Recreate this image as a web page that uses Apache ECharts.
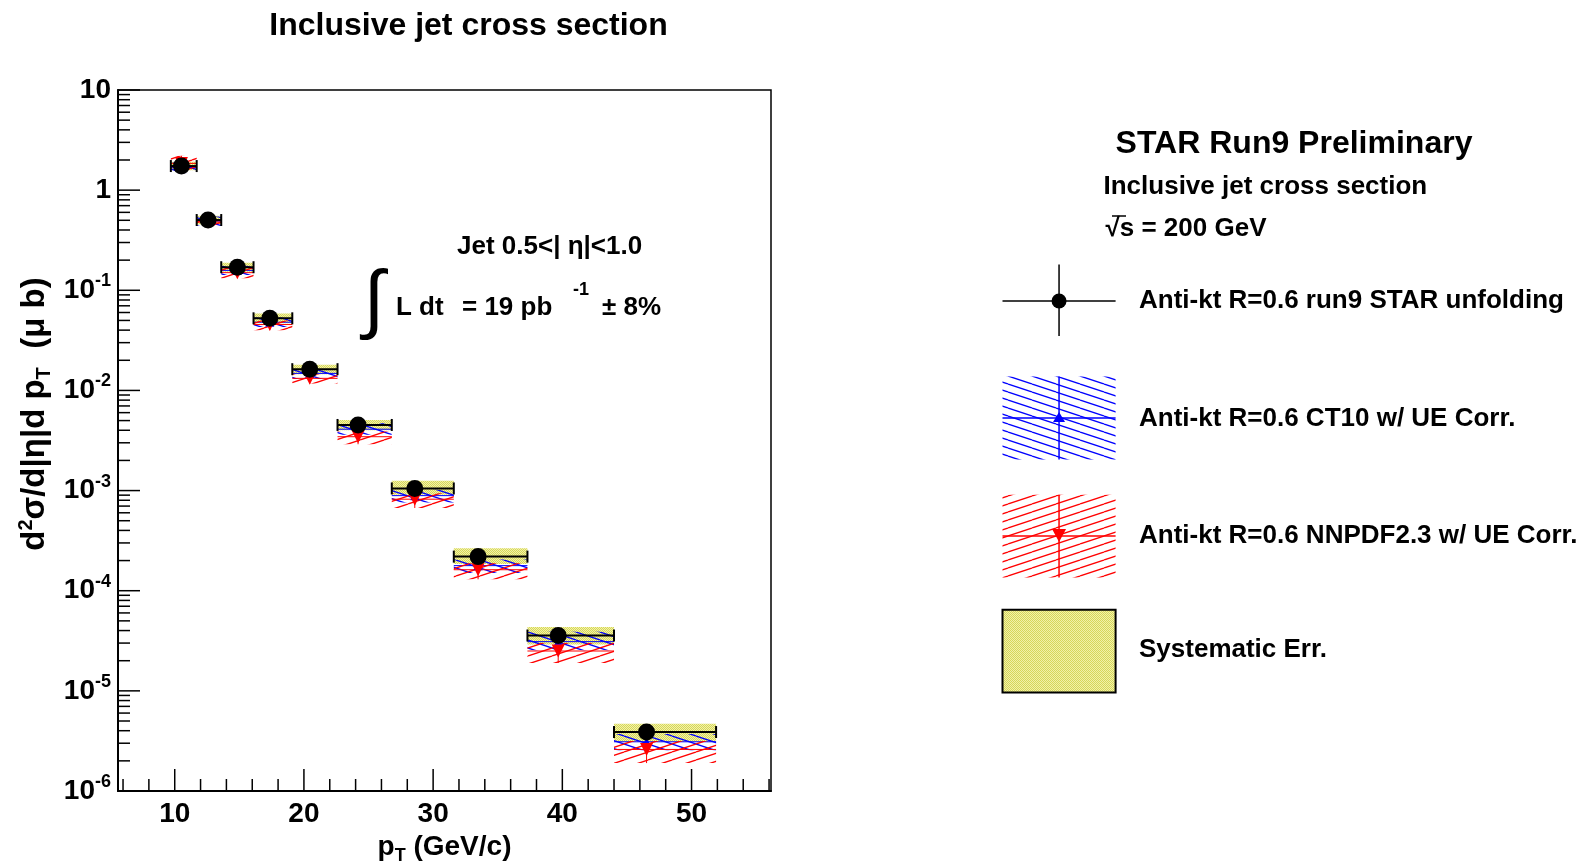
<!DOCTYPE html>
<html>
<head>
<meta charset="utf-8">
<script src="https://cdn.jsdelivr.net/npm/echarts@6/dist/echarts.min.js"></script>
<style>
html,body{margin:0;padding:0;background:#fff;}
#chart{width:1583px;height:867px;}
</style>
</head>
<body>
<div id="chart"></div>
<script>
// ---------------- data ----------------
const ptMean  = [10.52, 12.58, 14.85, 17.36, 20.45, 24.19, 28.58, 33.48, 39.68, 46.52];
const binLow  = [9.7, 11.7, 13.6, 16.1, 19.1, 22.6, 26.8, 31.6, 37.3, 44.0];
const binHigh = [11.7, 13.6, 16.1, 19.1, 22.6, 26.8, 31.6, 37.3, 44.0, 51.9];
const xsec    = [1.74, 0.503, 0.170, 0.0525, 0.0163, 0.00452, 1.05e-3, 2.19e-4, 3.57e-5, 3.88e-6];
const statLow = [1.70, 0.492, 0.166, 0.0512, 0.0158, 0.00436, 1.00e-3, 2.06e-4, 3.30e-5, 3.45e-6];
const statHigh= [1.78, 0.514, 0.174, 0.0538, 0.0168, 0.00468, 1.10e-3, 2.32e-4, 3.84e-5, 4.31e-6];
const sysLow  = [1.58, 0.455, 0.153, 0.0468, 0.0145, 0.00400, 9.1e-4, 1.85e-4, 2.9e-5, 3.1e-6];
const sysHigh = [1.92, 0.555, 0.188, 0.0585, 0.0180, 0.00508, 1.25e-3, 2.65e-4, 4.35e-5, 4.7e-6];
const ct10     = [1.68, 0.49, 0.158, 0.048, 0.0148, 0.0041, 8.9e-4, 1.78e-4, 3.1e-5, 3.1e-6];
const ct10Low  = [1.48, 0.44, 0.142, 0.043, 0.0130, 0.0036, 7.6e-4, 1.50e-4, 2.55e-5, 2.55e-6];
const ct10High = [1.90, 0.545, 0.176, 0.0535, 0.0165, 0.0047, 1.02e-3, 2.05e-4, 3.9e-5, 3.7e-6];
const nnpdf     = [1.85, 0.48, 0.150, 0.0455, 0.0132, 0.00345, 8.2e-4, 1.62e-4, 2.5e-5, 2.6e-6];
const nnpdfLow  = [1.60, 0.43, 0.132, 0.040, 0.0117, 0.0029, 6.7e-4, 1.30e-4, 1.9e-5, 1.9e-6];
const nnpdfHigh = [2.20, 0.53, 0.168, 0.050, 0.0145, 0.0039, 9.4e-4, 1.88e-4, 3.0e-5, 3.15e-6];

const xMajorTicks = [10, 20, 30, 40, 50];
const xMinorTicks = [6, 8, 12, 14, 16, 18, 22, 24, 26, 28, 32, 34, 36, 38, 42, 44, 46, 48, 52, 54, 56];
const yDecadeExponents = [-6, -5, -4, -3, -2, -1, 0, 1];
const yMantissas = [2, 3, 4, 5, 6, 7, 8, 9];

const X_MIN = 5.61, X_MAX = 56.15, Y_MIN = 1e-6, Y_MAX = 10;

const legendLabels = [
  'Anti-kt R=0.6 run9 STAR unfolding',
  'Anti-kt R=0.6 CT10 w/ UE Corr.',
  'Anti-kt R=0.6 NNPDF2.3 w/ UE Corr.',
  'Systematic Err.'
];

// ---------------- patterns ----------------
function hatch(color, down) {
  const c = document.createElement('canvas');
  c.width = 24; c.height = 8;
  const g = c.getContext('2d');
  g.strokeStyle = color; g.lineWidth = 1.3;
  for (let k = -1; k <= 1; k++) {
    g.beginPath();
    if (down) { g.moveTo(0, k * 8); g.lineTo(24, k * 8 + 8); }
    else { g.moveTo(0, k * 8 + 8); g.lineTo(24, k * 8); }
    g.stroke();
  }
  return c;
}
function dots() {
  const c = document.createElement('canvas');
  c.width = 2; c.height = 2;
  const g = c.getContext('2d');
  g.fillStyle = '#d6d65a'; g.fillRect(0, 0, 2, 2);
  g.fillStyle = '#f2f2a8'; g.fillRect(1, 0, 1, 1); g.fillRect(0, 1, 1, 1);
  return c;
}
const blueHatch = { image: hatch('#0000ff', true), repeat: 'repeat' };
const redHatch = { image: hatch('#ff0000', false), repeat: 'repeat' };
const yellowFill = { image: dots(), repeat: 'repeat' };

// ---------------- build series data ----------------
const n = ptMean.length;
const sysData = [], ct10Data = [], nnData = [], dataBars = [];
for (let i = 0; i < n; i++) {
  sysData.push([binLow[i], binHigh[i], sysLow[i], sysHigh[i]]);
  ct10Data.push([binLow[i], binHigh[i], ct10Low[i], ct10High[i], ptMean[i], ct10[i]]);
  nnData.push([binLow[i], binHigh[i], nnpdfLow[i], nnpdfHigh[i], ptMean[i], nnpdf[i]]);
  dataBars.push([binLow[i], binHigh[i], statLow[i], statHigh[i], ptMean[i], xsec[i]]);
}
const xTickData = xMajorTicks.map(v => [v, Y_MIN, 22]).concat(xMinorTicks.map(v => [v, Y_MIN, 12]));
const yTickData = [];
yDecadeExponents.forEach(e => {
  yTickData.push([X_MIN, Math.pow(10, e), 22]);
  if (e < 1) yMantissas.forEach(m => yTickData.push([X_MIN, m * Math.pow(10, e), 12]));
});

function boxRender(fill) {
  return function (params, api) {
    const p0 = api.coord([api.value(0), api.value(3)]);
    const p1 = api.coord([api.value(1), api.value(2)]);
    return { type: 'rect', shape: { x: p0[0], y: p0[1], width: p1[0] - p0[0], height: p1[1] - p0[1] }, style: { fill: fill } };
  };
}
function theoryRender(fill, color) {
  return function (params, api) {
    const p0 = api.coord([api.value(0), api.value(3)]);
    const p1 = api.coord([api.value(1), api.value(2)]);
    const c = api.coord([api.value(4), api.value(5)]);
    return {
      type: 'group', children: [
        { type: 'rect', shape: { x: p0[0], y: p0[1], width: p1[0] - p0[0], height: p1[1] - p0[1] }, style: { fill: fill } },
        { type: 'line', shape: { x1: p0[0], y1: c[1], x2: p1[0], y2: c[1] }, style: { stroke: color, lineWidth: 1 } },
        { type: 'line', shape: { x1: c[0], y1: p0[1], x2: c[0], y2: p1[1] }, style: { stroke: color, lineWidth: 1 } }
      ]
    };
  };
}
function dataBarRender(params, api) {
  const l = api.coord([api.value(0), api.value(5)]);
  const r = api.coord([api.value(1), api.value(5)]);
  const lo = api.coord([api.value(4), api.value(2)]);
  const hi = api.coord([api.value(4), api.value(3)]);
  const st = { stroke: '#000', lineWidth: 2 };
  return {
    type: 'group', children: [
      { type: 'line', shape: { x1: l[0], y1: l[1], x2: r[0], y2: r[1] }, style: st },
      { type: 'line', shape: { x1: l[0], y1: l[1] - 6, x2: l[0], y2: l[1] + 6 }, style: st },
      { type: 'line', shape: { x1: r[0], y1: r[1] - 6, x2: r[0], y2: r[1] + 6 }, style: st },
      { type: 'line', shape: { x1: lo[0], y1: lo[1], x2: hi[0], y2: hi[1] }, style: st }
    ]
  };
}
function tickRender(vertical) {
  return function (params, api) {
    const p = api.coord([api.value(0), api.value(1)]);
    const len = api.value(2);
    const shape = vertical ? { x1: p[0], y1: p[1], x2: p[0], y2: p[1] - len } : { x1: p[0], y1: p[1], x2: p[0] + len, y2: p[1] };
    return { type: 'line', shape: shape, style: { stroke: '#000', lineWidth: 1.5 } };
  };
}

// ---------------- text / legend graphics ----------------
const FF = '"Liberation Sans", Arial, Helvetica, sans-serif';
function txt(x, y, text, size, extra) {
  return { type: 'text', x: x, y: y, z: 100, style: Object.assign({ text: text, fontSize: size, fontWeight: 'bold', fontFamily: FF, fill: '#000', align: 'left', verticalAlign: 'middle' }, extra || {}) };
}
const LX0 = 1002.5, LX1 = 1115.6, LXC = (LX0 + LX1) / 2;
const graphics = [
  txt(468.5, 26, 'Inclusive jet cross section', 32, { align: 'center' }),
  txt(457, 247, 'Jet 0.5<| η|<1.0', 26),
  txt(374, 303, '∫', 76, { fontWeight: 'normal', align: 'center' }),
  txt(396, 308, 'L dt', 26),
  txt(462, 308, '= 19 pb', 26),
  txt(573, 290, '-1', 18),
  txt(602, 308, '± 8%', 26),
  { type: 'text', x: 35, y: 414, rotation: Math.PI / 2, z: 100, style: {
      text: 'd{sup|2}σ/d|η|d p{sub|T}  (μ b)', fontSize: 33, fontWeight: 'bold', fontFamily: FF, fill: '#000', align: 'center', verticalAlign: 'middle',
      rich: { sup: { fontSize: 20, fontWeight: 'bold', fontFamily: FF, padding: [0, 0, 17, 0] }, sub: { fontSize: 20, fontWeight: 'bold', fontFamily: FF, padding: [19, 0, 0, 0] } } } },
  txt(1115.6, 144, 'STAR Run9 Preliminary', 32),
  txt(1103.5, 187, 'Inclusive jet cross section', 26),
  txt(1105.5, 229, '√s = 200 GeV', 26),
  { type: 'line', z: 100, shape: { x1: 1112, y1: 216, x2: 1126, y2: 216 }, style: { stroke: '#000', lineWidth: 1.5 } },
  // legend entry 1
  { type: 'line', z: 100, shape: { x1: LX0, y1: 301, x2: LX1, y2: 301 }, style: { stroke: '#000', lineWidth: 1.5 } },
  { type: 'line', z: 100, shape: { x1: LXC, y1: 264.5, x2: LXC, y2: 336 }, style: { stroke: '#000', lineWidth: 1.5 } },
  { type: 'circle', z: 101, shape: { cx: LXC, cy: 301, r: 7.5 }, style: { fill: '#000' } },
  txt(1139, 301, legendLabels[0], 26),
  // legend entry 2
  { type: 'rect', z: 100, shape: { x: LX0, y: 376.6, width: LX1 - LX0, height: 82.8 }, style: { fill: blueHatch } },
  { type: 'line', z: 100, shape: { x1: LX0, y1: 418, x2: LX1, y2: 418 }, style: { stroke: '#0000ff', lineWidth: 1.5 } },
  { type: 'line', z: 100, shape: { x1: LXC, y1: 376.6, x2: LXC, y2: 459.4 }, style: { stroke: '#0000ff', lineWidth: 1.5 } },
  { type: 'polygon', z: 101, shape: { points: [[LXC, 412], [LXC - 6, 422], [LXC + 6, 422]] }, style: { fill: '#0000ff' } },
  txt(1139, 419, legendLabels[1], 26),
  // legend entry 3
  { type: 'rect', z: 100, shape: { x: LX0, y: 494.7, width: LX1 - LX0, height: 82.8 }, style: { fill: redHatch } },
  { type: 'line', z: 100, shape: { x1: LX0, y1: 536, x2: LX1, y2: 536 }, style: { stroke: '#ff0000', lineWidth: 1.5 } },
  { type: 'line', z: 100, shape: { x1: LXC, y1: 494.7, x2: LXC, y2: 577.5 }, style: { stroke: '#ff0000', lineWidth: 1.5 } },
  { type: 'polygon', z: 101, shape: { points: [[LXC - 7, 529], [LXC + 7, 529], [LXC, 542]] }, style: { fill: '#ff0000' } },
  txt(1139, 536, legendLabels[2], 26),
  // legend entry 4
  { type: 'rect', z: 100, shape: { x: LX0, y: 609.8, width: LX1 - LX0, height: 82.8 }, style: { fill: yellowFill, stroke: '#000', lineWidth: 2 } },
  txt(1139, 650, legendLabels[3], 26)
];

// ---------------- chart ----------------
const chart = echarts.init(document.getElementById('chart'), null, { renderer: 'canvas' });
chart.setOption({
  animation: false,
  backgroundColor: '#ffffff',
  grid: { left: 118, top: 90, width: 653, height: 701, show: true, borderColor: '#000', borderWidth: 1.5, backgroundColor: 'transparent', containLabel: false, outerBoundsMode: 'none' },
  xAxis: {
    type: 'value', min: X_MIN, max: X_MAX,
    axisLine: { show: true, onZero: false, lineStyle: { color: '#000', width: 2 } },
    axisTick: { show: false },
    splitLine: { show: false },
    axisLabel: { customValues: xMajorTicks, margin: 9, color: '#000', fontSize: 28, fontWeight: 'bold', fontFamily: FF },
    name: 'p{sub|T} (GeV/c)', nameLocation: 'middle', nameGap: 21,
    nameTextStyle: { color: '#000', fontSize: 28, fontWeight: 'bold', fontFamily: FF,
      rich: { sub: { fontSize: 18, fontWeight: 'bold', fontFamily: FF, padding: [18, 0, 0, 0] } } }
  },
  yAxis: {
    type: 'log', logBase: 10, min: Y_MIN, max: Y_MAX,
    axisLine: { show: true, onZero: false, lineStyle: { color: '#000', width: 2 } },
    axisTick: { show: false },
    splitLine: { show: false },
    minorTick: { show: false },
    axisLabel: {
      interval: 0, margin: 7, color: '#000', fontSize: 28, fontWeight: 'bold', fontFamily: FF,
      showMinLabel: true, showMaxLabel: true,
      formatter: function (v) {
        const e = Math.round(Math.log10(v));
        if (e === 1) return '10';
        if (e === 0) return '1';
        return '10{sup|' + e + '}';
      },
      rich: { sup: { fontSize: 18, fontWeight: 'bold', fontFamily: FF, color: '#000', padding: [0, 0, 18, 0] } }
    }
  },
  graphic: graphics,
  series: [
    { type: 'custom', name: 'Systematic Err.', z: 2, clip: true, encode: { x: [0, 1], y: [2, 3] }, data: sysData, renderItem: boxRender(yellowFill) },
    { type: 'custom', name: 'CT10', z: 3, clip: true, encode: { x: [0, 1], y: [2, 3] }, data: ct10Data, renderItem: theoryRender(blueHatch, '#0000ff') },
    { type: 'custom', name: 'NNPDF2.3', z: 4, clip: true, encode: { x: [0, 1], y: [2, 3] }, data: nnData, renderItem: theoryRender(redHatch, '#ff0000') },
    { type: 'scatter', name: 'CT10 marker', z: 5, symbol: 'triangle', symbolSize: 9, itemStyle: { color: '#0000ff', opacity: 1 }, data: ptMean.map((x, i) => [x, ct10[i]]) },
    { type: 'scatter', name: 'NNPDF marker', z: 6, symbol: 'triangle', symbolRotate: 180, symbolSize: 13, itemStyle: { color: '#ff0000', opacity: 1 }, data: ptMean.map((x, i) => [x, nnpdf[i]]) },
    { type: 'custom', name: 'STAR bars', z: 7, clip: true, encode: { x: [0, 1], y: [2, 3] }, data: dataBars, renderItem: dataBarRender },
    { type: 'scatter', name: 'STAR unfolding', z: 8, symbol: 'circle', symbolSize: 17, itemStyle: { color: '#000', opacity: 1 }, data: ptMean.map((x, i) => [x, xsec[i]]) },
    { type: 'custom', name: 'xticks', z: 9, clip: false, silent: true, data: xTickData, renderItem: tickRender(true) },
    { type: 'custom', name: 'yticks', z: 9, clip: false, silent: true, data: yTickData, renderItem: tickRender(false) }
  ]
});
</script>
</body>
</html>
